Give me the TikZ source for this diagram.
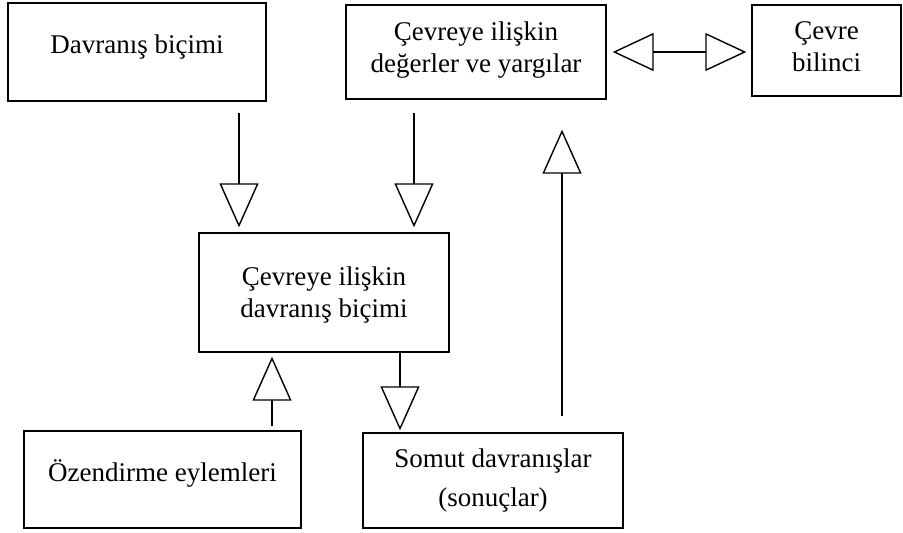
\documentclass[tikz,border=0pt]{standalone}
\usepackage{fontspec}
\setmainfont{Liberation Serif}
\usepackage{tikz}
\usetikzlibrary{arrows.meta, positioning}
\definecolor{LineColor}{RGB}{0,0,0}
\tikzstyle{box} = [draw=LineColor, line width=1.4pt, rectangle, align=center, inner sep=0pt, font=\fontsize{27}{32}\selectfont]
\tikzstyle{arrow} = [line width=1.4pt, LineColor, -{Triangle[open, length=44pt, width=39pt]}]
\tikzstyle{dblarrow} = [line width=1.4pt, LineColor, {Triangle[open, length=41pt, width=38pt]}-{Triangle[open, length=41pt, width=38pt]}]

\begin{document}
\begin{tikzpicture}[x=1pt, y=-1pt]
        \useasboundingbox (0,0) rectangle (903,533);

        % Top row
        \node[box, minimum width=258pt, minimum height=98pt, text depth=16pt] (davranis) at (137,52) {Davranış biçimi};
        \node[box, minimum width=260pt, minimum height=94pt, text depth=10pt] (degerler) at (476,52) {Çevreye ilişkin\\değerler ve yargılar};
        \node[box, minimum width=149pt, minimum height=91pt, text depth=7pt] (bilinc) at (826.5,50.5) {Çevre\\bilinci};

        % Middle
        \node[box, minimum width=250pt, minimum height=119pt, text depth=-4pt] (tutum) at (324,292.5) {Çevreye ilişkin\\davranış biçimi};

        % Bottom row
        \node[box, minimum width=277pt, minimum height=97pt, text depth=18pt] (ozendirme) at (162.5,479.5) {Özendirme eylemleri};
        \node[box, minimum width=260pt, minimum height=95pt] (somut) at (493,480.5) {Somut davranışlar\\[7pt](sonuçlar)};

        % Arrows
        \draw[arrow, shorten <=11pt, shorten >=5pt] ([xshift=102pt]davranis.south) -- ([xshift=102pt]davranis.south |- tutum.north);
        \draw[arrow, shorten <=13pt, shorten >=5pt] ([xshift=-62pt]degerler.south) -- ([xshift=-62pt]degerler.south |- tutum.north);
        \draw[dblarrow, shorten <=6pt, shorten >=5pt] (degerler.east) -- (degerler.east -| bilinc.west);
        \draw[arrow, shorten <=4pt, shorten >=4pt] ([xshift=109.5pt]ozendirme.north) -- ([xshift=109.5pt]ozendirme.north |- tutum.south);
        \draw[arrow, shorten >=2pt] ([xshift=76pt]tutum.south) -- ([xshift=76pt]tutum.south |- somut.north);
        \draw[arrow, shorten <=16pt, shorten >=30pt] ([xshift=69pt]somut.north) -- ([xshift=69pt]somut.north |- degerler.south);

      \end{tikzpicture}
\end{document}
